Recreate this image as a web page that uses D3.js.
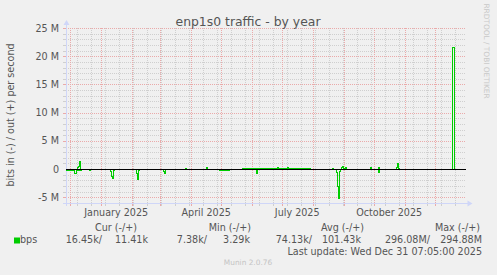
<!DOCTYPE html>
<html>
<head>
<meta charset="utf-8">
<script src="https://cdn.jsdelivr.net/npm/d3@7"></script>
<style>
  body { margin: 0; background: #f0f0f0; }
  svg { display: block; font-family: "DejaVu Sans", sans-serif; }
</style>
</head>
<body>
<svg id="chart" width="497" height="275"></svg>
<script>
"use strict";

// values in Mbit/s, each value holds until the next date (rrd steps)
const outPoints = [
  ["2024-11-26", 0], ["2024-12-08", 0.3], ["2024-12-09", 0.5], ["2024-12-10", 1.5], ["2024-12-11", 0.1],
  ["2024-12-12", 0], ["2025-03-26", 0.2], ["2025-03-27", 0], ["2025-04-16", 0.4], ["2025-04-17", 0],
  ["2025-05-22", 0.15], ["2025-06-26", 0.4], ["2025-06-27", 0.15], ["2025-07-06", 0.35],
  ["2025-07-07", 0.15], ["2025-07-29", 0], ["2025-08-20", 0.2], ["2025-08-21", 0],
  ["2025-08-29", 0.3], ["2025-08-30", 0.6], ["2025-08-31", 0.2], ["2025-09-02", 0.4], ["2025-09-03", 0],
  ["2025-09-27", 0.35], ["2025-09-28", 0], ["2025-10-05", 0.3], ["2025-10-06", 0],
  ["2025-10-23", 0.3], ["2025-10-24", 1.1], ["2025-10-25", 0.2], ["2025-10-26", 0],
  ["2025-12-18", 21.7], ["2025-12-20", 0], ["2025-12-31", 0]
];
const inPoints = [
  ["2024-11-26", 0.2], ["2024-12-05", 0.6], ["2024-12-07", 0.2], ["2024-12-12", 0],
  ["2024-12-20", 0.2], ["2024-12-21", 0],
  ["2025-01-10", 0.4], ["2025-01-11", 1.2], ["2025-01-12", 1.6], ["2025-01-13", 0.2], ["2025-01-14", 0],
  ["2025-02-05", 0.6], ["2025-02-06", 1.8], ["2025-02-07", 0.1], ["2025-02-08", 0],
  ["2025-03-04", 0.3], ["2025-03-05", 0.75], ["2025-03-06", 0],
  ["2025-04-29", 0.2], ["2025-05-09", 0],
  ["2025-06-05", 0.75], ["2025-06-06", 0],
  ["2025-08-24", 0.5], ["2025-08-25", 3.0], ["2025-08-26", 5.2], ["2025-08-27", 0.4], ["2025-08-28", 0],
  ["2025-10-05", 0.5], ["2025-10-06", 0], ["2025-12-31", 0]
];

const yTicks = [-5, 0, 5, 10, 15, 20, 25];
const yTickLabels = ["-5 M", "0", "5 M", "10 M", "15 M", "20 M", "25 M"];
const monthLabels = ["January 2025", "April 2025", "July 2025", "October 2025"];
const monthLabelDates = ["2025-01-16", "2025-04-16", "2025-07-16", "2025-10-16"];

const statHeads = ["Cur (-/+)", "Min (-/+)", "Avg (-/+)", "Max (-/+)"];
const statIn = ["16.45k/", "7.38k/", "74.13k/", "296.08M/"];
const statOut = ["11.41k", "3.29k", "101.43k", "294.88M"];

(function () {
  const svg = d3.select("#chart");
  const parse = d3.timeParse("%Y-%m-%d");
  const start = new Date(2024, 10, 26, 7, 5);
  const end = new Date(2025, 11, 31, 7, 5);

  const left = 65.5, right = 465.5, top = 28, bottom = 203;
  const x = d3.scaleTime().domain([start, end]).range([left, right]);
  const y = d3.scaleLinear().domain([-6, 25]).range([bottom, top]);

  const minorCol = "#cfcfcf", majorCol = "#eaaaaa", axisCol = "#cfd6f8";
  const px = v => Math.round(v) + 0.5;

  const grid = svg.append("g").attr("shape-rendering", "crispEdges");

  // horizontal minor + major
  d3.range(-5, 26).forEach(function (v) {
    const major = v % 5 === 0;
    if (v === 0) return;
    grid.append("line")
      .attr("x1", left).attr("x2", right)
      .attr("y1", px(y(v))).attr("y2", px(y(v)))
      .attr("stroke", major ? majorCol : minorCol)
      .attr("stroke-dasharray", "1,1");
    grid.append("line")
      .attr("x1", left - 3).attr("x2", left)
      .attr("y1", px(y(v))).attr("y2", px(y(v)))
      .attr("stroke", major ? majorCol : minorCol);
  });

  // vertical minor: every two weeks
  const minorDays = d3.timeDay.range(new Date(2024, 11, 8), end, 14);
  minorDays.forEach(function (d) {
    grid.append("line")
      .attr("x1", px(x(d))).attr("x2", px(x(d)))
      .attr("y1", top).attr("y2", bottom)
      .attr("stroke", minorCol)
      .attr("stroke-dasharray", "1,1");
    grid.append("line")
      .attr("x1", px(x(d))).attr("x2", px(x(d)))
      .attr("y1", bottom).attr("y2", bottom + 3)
      .attr("stroke", minorCol);
  });

  // vertical major: month starts
  d3.timeMonth.range(start, end).forEach(function (d) {
    grid.append("line")
      .attr("x1", px(x(d))).attr("x2", px(x(d)))
      .attr("y1", top).attr("y2", bottom)
      .attr("stroke", majorCol)
      .attr("stroke-dasharray", "1,1");
    grid.append("line")
      .attr("x1", px(x(d))).attr("x2", px(x(d)))
      .attr("y1", bottom).attr("y2", bottom + 3)
      .attr("stroke", majorCol);
  });

  // axes
  grid.append("line")
    .attr("x1", px(left)).attr("x2", px(left))
    .attr("y1", top - 4).attr("y2", bottom + 3)
    .attr("stroke", axisCol);
  grid.append("line")
    .attr("x1", left - 3).attr("x2", right + 3)
    .attr("y1", px(bottom)).attr("y2", px(bottom))
    .attr("stroke", axisCol);
  svg.append("path")
    .attr("d", "M" + (px(left) - 3) + "," + (top - 3) + "L" + (px(left) + 3) + "," + (top - 3) + "L" + px(left) + "," + (top - 8) + "Z")
    .attr("fill", axisCol);
  svg.append("path")
    .attr("d", "M" + (right + 2) + "," + (px(bottom) - 3) + "L" + (right + 2) + "," + (px(bottom) + 3) + "L" + (right + 7) + "," + px(bottom) + "Z")
    .attr("fill", axisCol);

  // series
  const line = d3.line()
    .x(d => Math.round(x(d[0])) + 0.5)
    .y(d => Math.round(y(d[1])) + 0.5)
    .curve(d3.curveStepAfter);

  const outData = outPoints.map(p => [parse(p[0]), p[1]]);
  const inData = inPoints.map(p => [parse(p[0]), -p[1]]);

  [inData, outData].forEach(function (data) {
    svg.append("path")
      .datum(data)
      .attr("d", line)
      .attr("fill", "none")
      .attr("stroke", "#00cc00")
      .attr("stroke-width", 1)
      .attr("shape-rendering", "crispEdges");
  });

  // zero line
  svg.append("line")
    .attr("x1", left).attr("x2", right)
    .attr("y1", px(y(0))).attr("y2", px(y(0)))
    .attr("stroke", "#000")
    .attr("stroke-width", 1)
    .attr("shape-rendering", "crispEdges");

  // y tick labels
  svg.selectAll("text.ytick")
    .data(yTicks)
    .enter()
    .append("text")
    .attr("class", "ytick")
    .attr("x", 59)
    .attr("y", d => y(d) + 3.5)
    .attr("text-anchor", "end")
    .attr("font-size", "9.6px")
    .attr("fill", "#555")
    .text((d, i) => yTickLabels[i]);

  // x labels
  svg.selectAll("text.xtick")
    .data(monthLabels)
    .enter()
    .append("text")
    .attr("class", "xtick")
    .attr("x", (d, i) => x(parse(monthLabelDates[i])))
    .attr("y", 216)
    .attr("text-anchor", "middle")
    .attr("font-size", "9.6px")
    .attr("fill", "#555")
    .text(d => d);

  // title
  svg.append("text")
    .attr("x", 248)
    .attr("y", 26)
    .attr("text-anchor", "middle")
    .attr("font-size", "12.4px")
    .attr("fill", "#555")
    .text("enp1s0 traffic - by year");

  // y axis title
  svg.append("text")
    .attr("transform", "translate(14,115) rotate(-90)")
    .attr("text-anchor", "middle")
    .attr("font-size", "9.6px")
    .attr("fill", "#555")
    .text("bits in (-) / out (+) per second");

  // rrdtool watermark
  svg.append("text")
    .attr("transform", "translate(484,51) rotate(90)")
    .attr("text-anchor", "middle")
    .attr("font-size", "7.4px")
    .attr("fill", "#c8c8c8")
    .text("RRDTOOL / TOBI OETIKER");

  // legend
  const headEnds = [137, 251, 364, 480];
  const inEnds = [102, 207, 312, 430];
  const outEnds = [148, 250, 361, 482];

  statHeads.forEach(function (h, i) {
    svg.append("text")
      .attr("x", headEnds[i]).attr("y", 231)
      .attr("text-anchor", "end")
      .attr("font-size", "9.6px")
      .attr("fill", "#555")
      .text(h);
    svg.append("text")
      .attr("x", inEnds[i]).attr("y", 243)
      .attr("text-anchor", "end")
      .attr("font-size", "9.6px")
      .attr("fill", "#555")
      .text(statIn[i]);
    svg.append("text")
      .attr("x", outEnds[i]).attr("y", 243)
      .attr("text-anchor", "end")
      .attr("font-size", "9.6px")
      .attr("fill", "#555")
      .text(statOut[i]);
  });

  svg.append("rect")
    .attr("x", 14).attr("y", 237.5)
    .attr("width", 6).attr("height", 6)
    .attr("fill", "#00cc00");
  svg.append("text")
    .attr("x", 20).attr("y", 243)
    .attr("font-size", "9.6px")
    .attr("fill", "#555")
    .text("bps");

  svg.append("text")
    .attr("x", 482).attr("y", 255)
    .attr("text-anchor", "end")
    .attr("font-size", "9.6px")
    .attr("fill", "#555")
    .text("Last update: Wed Dec 31 07:05:00 2025");

  svg.append("text")
    .attr("x", 248).attr("y", 265)
    .attr("text-anchor", "middle")
    .attr("font-size", "7.4px")
    .attr("fill", "#c4c4c4")
    .text("Munin 2.0.76");
})();
</script>
</body>
</html>
